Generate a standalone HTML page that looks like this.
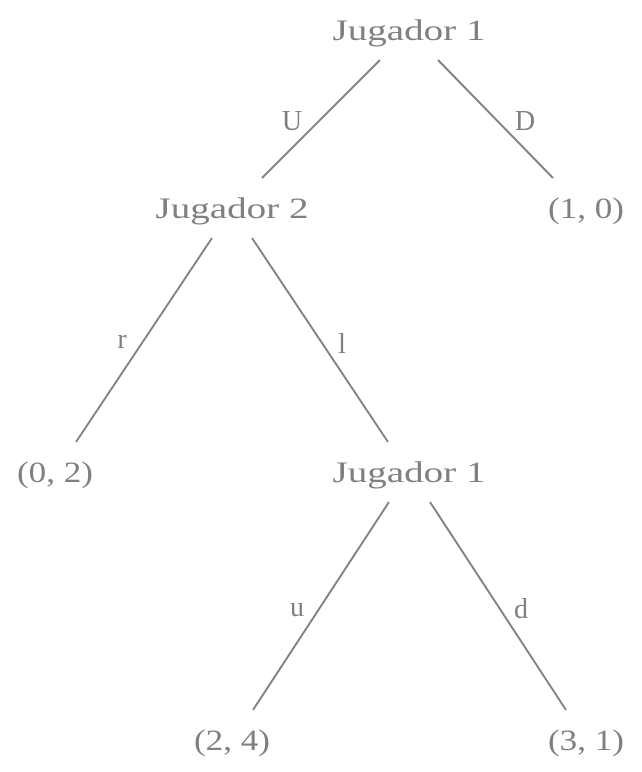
<!DOCTYPE html>
<html>
<head>
<meta charset="utf-8">
<style>
  html, body { margin: 0; padding: 0; background: #fff; }
  svg { display: block; }
  text { font-family: "Liberation Serif", "DejaVu Serif", serif; fill: #808080; }
</style>
</head>
<body>
<svg id="tree" width="642" height="772" viewBox="0 0 642 772" xmlns="http://www.w3.org/2000/svg"></svg>
<script>
const nodeLabels = ["Jugador 1", "Jugador 2", "(1, 0)", "(0, 2)", "Jugador 1", "(2, 4)", "(3, 1)"];
const nodeX = [409, 232, 586, 55, 409, 232, 586];
const nodeY = [40, 218, 218, 482, 482, 750, 750];
const nodeNames = ["player1-root", "player2-node", "payoff-1-0", "payoff-0-2", "player1-node", "payoff-2-4", "payoff-3-1"];
const edgeFrom = [0, 0, 1, 1, 4, 4];
const edgeTo = [1, 2, 3, 4, 5, 6];
const edgeLabels = ["U", "D", "r", "l", "u", "d"];
const edgeLabelX = [292, 525, 122, 342, 297, 521];
const edgeLabelY = [130, 130, 348, 353, 616, 618];

const NS = "http://www.w3.org/2000/svg";
const svg = document.getElementById("tree");
// per-edge horizontal trims (style, not data)
const startTrim = [29, 29, 20, 20, 20, 21];
const endTrim = [30, 33, 21, 21, 21, 20];

edgeFrom.forEach((f, k) => {
  const t = edgeTo[k];
  const dir = nodeX[t] > nodeX[f] ? 1 : -1;
  const line = document.createElementNS(NS, "line");
  
  
  line.setAttribute("x1", nodeX[f] + dir * startTrim[k]);
  line.setAttribute("y1", nodeY[f] + 20);
  line.setAttribute("x2", nodeX[t] - dir * endTrim[k]);
  line.setAttribute("y2", nodeY[t] - 40);
  line.setAttribute("stroke", "#808080");
  line.setAttribute("stroke-width", "2");
  svg.appendChild(line);

  const lab = document.createElementNS(NS, "text");
  
  
  lab.setAttribute("x", edgeLabelX[k]);
  lab.setAttribute("y", edgeLabelY[k]);
  lab.setAttribute("text-anchor", "middle");
  lab.setAttribute("font-size", "28");
  lab.textContent = edgeLabels[k];
  svg.appendChild(lab);
});

nodeLabels.forEach((s, i) => {
  const t = document.createElementNS(NS, "text");
  
  
  t.setAttribute("x", nodeX[i]);
  t.setAttribute("y", nodeY[i]);
  t.setAttribute("text-anchor", "middle");
  t.setAttribute("font-size", "30");
  t.setAttribute("textLength", s.startsWith("Jugador") ? "153" : "76");
  t.setAttribute("lengthAdjust", "spacingAndGlyphs");
  t.textContent = s;
  svg.appendChild(t);
});
</script>
</body>
</html>
